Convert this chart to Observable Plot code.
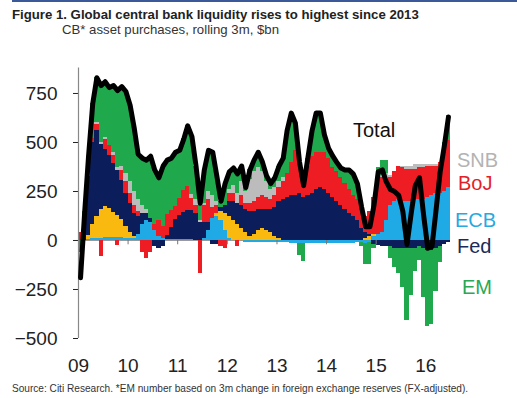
<!DOCTYPE html>
<html><head><meta charset="utf-8">
<script src="https://cdn.jsdelivr.net/npm/d3@7"></script>
<script src="https://cdn.jsdelivr.net/npm/@observablehq/plot@0.6"></script>
<style>
body{margin:0;background:#fff;width:517px;height:398px;overflow:hidden;position:relative;font-family:"Liberation Sans",Arial,sans-serif;}
#topline{position:absolute;left:12px;right:0;top:0;height:2px;background:#3b5998;}
#title{position:absolute;left:12px;top:8px;font:bold 13.2px/13px "Liberation Sans Narrow","Arial Narrow",sans-serif;color:#222;white-space:nowrap;}
#subtitle{position:absolute;left:62px;top:23px;font:13.2px/13px "Liberation Sans Narrow","Arial Narrow",sans-serif;color:#333;white-space:nowrap;}
#source{position:absolute;left:12px;top:384px;font:10.1px/10px "Liberation Sans Narrow","Arial Narrow",sans-serif;color:#333;white-space:nowrap;}
#chart{position:absolute;left:0;top:40px;}
.lab{position:absolute;font:20px/20px "Liberation Sans",Arial,sans-serif;white-space:nowrap;}
</style></head>
<body>
<div id="topline"></div>
<div id="title">Figure 1. Global central bank liquidity rises to highest since 2013</div>
<div id="subtitle">CB* asset purchases, rolling 3m, $bn</div>
<div id="chart"></div>
<div class="lab" style="left:353px;top:120px;color:#111">Total</div>
<div class="lab" style="left:457px;top:150px;color:#b3b3b3">SNB</div>
<div class="lab" style="left:458px;top:173px;color:#e41e26">BoJ</div>
<div class="lab" style="left:455px;top:210px;color:#27a9e1">ECB</div>
<div class="lab" style="left:457px;top:236px;color:#1c2a5a">Fed</div>
<div class="lab" style="left:462px;top:277px;color:#2aa853">EM</div>
<div id="source">Source: Citi Research. *EM number based on 3m change in foreign exchange reserves (FX-adjusted).</div>
<script>
// Monthly values, Jan 2009 - Jun 2016 ($bn, rolling 3m)
const ecb = [
  0, 0, 5, 10, 10, 10, 15, 15, 15, 15, 15, 10,
  10, 10, 30, 80, 100, 90, 50, 20, 10, 5, 5, 5,
  5, 5, 5, 5, 0, 0, 10, 50, 110, 120, 100, 50,
  10, 0, 0, 0, -10, -10, -10, -10, -10, -10, -10, -10,
  -10, -10, -10, -15, -15, -15, -15, -15, -15, -15, -15, -15,
  -15, -15, -15, -15, -15, -15, -15, -10, -10, -15, -10, 20,
  30, 40, 100, 180, 200, 210, 200, 200, 200, 210, 210, 210,
  220, 230, 240, 240, 250, 270];
const boe = [
  0, 0, 20, 70, 110, 150, 160, 150, 130, 110, 90, 60,
  30, 10, 0, 0, 0, 0, 0, 0, 0, 0, 0, 0,
  0, 0, 0, 0, 0, 0, 0, 0, 0, 20, 50, 90,
  110, 100, 80, 60, 40, 20, 30, 50, 60, 50, 40, 20,
  10, 0, 0, 0, 0, 0, 0, 0, 0, 0, 0, 0,
  0, 0, 0, 0, 0, 0, 0, 0, 0, 10, 20, 10,
  0, 0, 0, 0, 0, 0, 0, 0, 0, 0, 0, 0,
  0, 0, 0, 0, 0, 0];
const fed = [
  0, 120, 300, 420, 440, 330, 290, 270, 250, 230, 200, 170,
  150, 120, 90, 60, 40, 20, -30, -40, -30, 20, 60, 100,
  120, 140, 150, 150, 140, 90, 80, 40, -20, -20, 20, 40,
  80, 100, 110, 120, 120, 130, 120, 110, 100, 110, 120, 150,
  190, 210, 220, 230, 230, 240, 220, 230, 240, 260, 270, 260,
  240, 220, 200, 180, 160, 140, 120, 100, 60, 30, 10, -20,
  -25, -30, -30, -30, -40, -40, -40, -40, -40, -40, -30, -40,
  -50, -50, -40, -30, -20, -10];
const boj = [
  40, 0, 0, 20, 30, -80, 50, 50, 40, -25, 50, 60,
  50, 40, 30, -60, -90, -60, 30, 80, 60, 110, 90, 70,
  90, 110, 120, 60, 40, -170, 90, 120, 60, 40, -30, -40,
  40, 40, -30, 50, 30, 40, 50, 60, 70, 60, 50, 60,
  70, 90, 120, 170, 230, 180, 70, 150, 190, 190, 180, 190,
  180, 150, 150, 140, 130, 120, 110, 110, 110, 80, 120, 190,
  280, 280, 200, 140, 150, 170, 170, 160, 160, 150, 160, 160,
  160, 150, 140, 160, 220, 240];
const snb = [
  0, 0, 0, 0, 10, 10, 10, 0, 15, 15, 20, 40,
  60, 70, 60, 40, 20, 0, 0, 0, 0, 0, 0, 0,
  0, 0, 0, 20, 30, 10, 10, 40, 60, 20, 0, 0,
  20, 40, 50, 70, 60, 120, 150, 150, 120, 80, 50, 40,
  30, 20, 0, 0, 0, 0, 0, 0, 0, 0, 0, 0,
  0, 0, 0, 0, 0, 0, 0, 0, 0, 0, 0, 0,
  0, 10, 40, 10, 0, 0, 10, 20, 20, 30, 20, 20,
  10, 10, 10, 0, 0, 0];
const em = [
  -60, 30, 105, 180, 230, 300, 285, 295, 340, 395, 410, 420,
  390, 320, 230, 240, 250, 320, 280, 220, 310, 275, 265, 275,
  245, 265, 310, 295, 170, 100, 170, 210, 220, 130, 30, 110,
  90, 90, 100, 80, 20, 50, 60, 80, 50, 30, 30, 50,
  80, 100, 220, 250, 140, -60, -90, 40, 130, 200, 200, 90,
  50, 60, 50, 50, 70, 100, 110, 80, -20, -110, -110, -20,
  60, 80, 70, -60, -100, -130, -200, -370, -240, -120, -70, -250,
  -390, -380, -220, -80, 30, 130];
const total = [
  -190, 150, 430, 700, 830, 790, 810, 780, 790, 765, 785, 760,
  690, 570, 440, 420, 410, 430, 360, 320, 380, 410, 420, 450,
  460, 520, 585, 530, 380, 190, 360, 460, 450, 330, 200, 290,
  350, 370, 340, 380, 270, 360, 410, 450, 400, 330, 290, 320,
  380, 420, 560, 650, 600, 400, 280, 420, 560, 650, 650, 540,
  470, 430, 400, 370, 360, 360, 340, 290, 170, 70, 70, 180,
  350, 360, 300, 260, 250, 230, 150, -20, 140, 280, 320, 130,
  -40, -30, 150, 350, 480, 630];

const seriesNames = ["ECB", "BoE", "Fed", "BoJ", "SNB", "EM"];
const seriesColors = ["#1faae6", "#f9b90f", "#0c1d5c", "#ee1d24", "#bcbcbc", "#20a84d"];
const yTicks = [-500, -250, 0, 250, 500, 750];
const yearLabels = ["09", "10", "11", "12", "13", "14", "15", "16"];

const start = new Date(Date.UTC(2009, 0, 1));
const end = new Date(Date.UTC(2016, 6, 1));
const months = d3.utcMonth.range(start, end);
const seriesValues = [ecb, boe, fed, boj, snb, em];
const rows = [];
months.forEach((d, i) => seriesNames.forEach((s, k) => rows.push({d0: d, d1: d3.utcMonth.offset(d, 1), series: s, value: seriesValues[k][i]})));
const lineRows = months.map((d, i) => ({mid: d3.utcDay.offset(d, 15), total: total[i]}));
const yearDates = yearLabels.map((_, i) => new Date(Date.UTC(2009 + i, 0, 1)));

const chart = Plot.plot({
  width: 517, height: 340,
  marginLeft: 78, marginRight: 67, marginTop: 27.5, marginBottom: 42,
  style: {fontFamily: "'Liberation Sans', Arial, sans-serif", fontSize: "19px", color: "#222", background: "white"},
  x: {type: "utc", domain: [start, end], ticks: yearDates, tickFormat: (d) => yearLabels[d.getUTCFullYear() - 2009], tickSize: 0, tickPadding: 20, label: null},
  y: {domain: [-500, 880], ticks: yTicks, tickSize: 5, tickPadding: 16, label: null},
  color: {domain: seriesNames, range: seriesColors},
  marks: [
    Plot.ruleY([0], {stroke: "#999", strokeWidth: 1}),
    Plot.rectY(rows, Plot.stackY({x1: "d0", x2: "d1", y: "value", fill: "series", shapeRendering: "crispEdges"})),
    Plot.ruleX(yearDates, {y1: 0, y2: -22, stroke: "#777"}),
    Plot.ruleX([start], {stroke: "#888", strokeWidth: 1.2}),
    Plot.lineY(lineRows, {x: "mid", y: "total", stroke: "#000", strokeWidth: 5, strokeLinejoin: "round", strokeLinecap: "round"})
  ]
});
document.getElementById("chart").appendChild(chart);
</script>
</body></html>
